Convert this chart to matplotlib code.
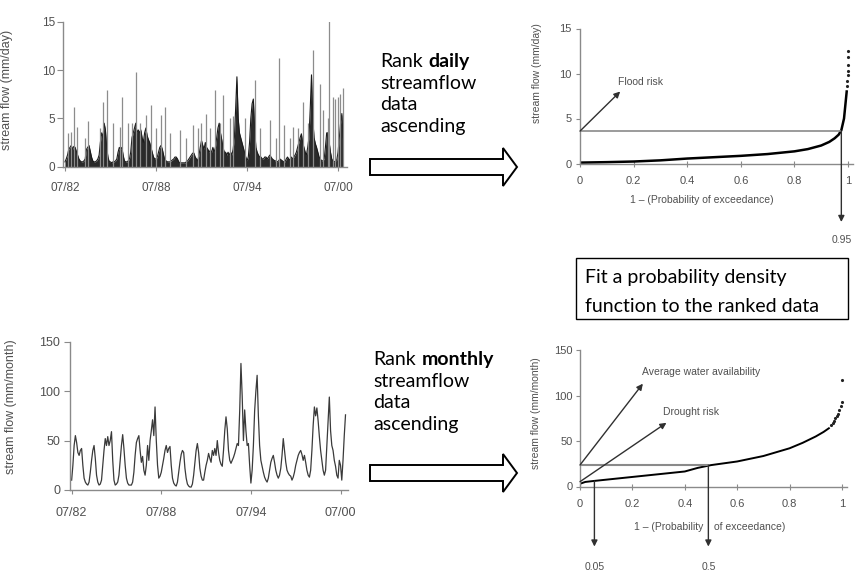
import matplotlib.pyplot as plt
import numpy as np
from matplotlib.patches import FancyArrow, Rectangle

plt.rcParams['font.family'] = ['Liberation Sans', 'DejaVu Sans']

# 时间轴刻度
date_ticks = [1982.5, 1988.5, 1994.5, 2000.5]
date_labels = ['07/82', '07/88', '07/94', '07/00']

# 月径流 (mm/month)，从 1982 年 7 月开始逐月
monthly_flow = [
    10, 25, 45, 55, 48, 38, 35, 40, 42, 25, 12, 8,
    6, 5, 8, 18, 30, 40, 45, 32, 15, 8, 5, 6,
    10, 25, 40, 52, 45, 54, 45, 50, 59, 30, 10, 5,
    6, 8, 15, 30, 45, 56, 42, 25, 12, 7, 5, 5,
    5, 8, 18, 35, 48, 52, 55, 40, 28, 34, 20, 15,
    25, 45, 30, 50, 60, 71, 55, 84, 50, 25, 12, 14,
    18, 25, 32, 40, 45, 38, 42, 44, 25, 12, 7, 5,
    4, 8, 18, 28, 36, 40, 38, 22, 12, 6, 4, 3,
    3, 6, 15, 28, 40, 47, 38, 22, 14, 10, 10, 18,
    25, 30, 37, 32, 28, 40, 35, 42, 35, 50, 38, 30,
    26, 24, 40, 60, 74, 62, 40, 30, 27, 30, 33, 37,
    42, 47, 45, 80, 128, 95, 50, 81, 60, 45, 47, 25,
    7, 20, 45, 80, 100, 116, 75, 45, 30, 24, 18, 13,
    10, 8, 12, 20, 28, 32, 35, 28, 20, 15, 12, 15,
    22, 35, 52, 40, 28, 20, 17, 15, 14, 10, 13, 18,
    25, 30, 35, 38, 40, 36, 30, 35, 28, 20, 15, 13,
    20, 40, 65, 84, 75, 83, 70, 54, 40, 30, 20, 15,
    20, 45, 70, 94, 60, 45, 40, 30, 24, 15, 12, 30,
    25, 10, 30, 55, 76,
]

# 日径流的深色部分上沿 (mm/day)，逐月
daily_dark = [
    0.5, 0.8, 1.2, 1.8, 2.0, 2.2, 1.8, 2.1, 2.0, 1.6, 1.2, 0.8,
    0.6, 0.5, 0.5, 0.6, 0.8, 1.8, 2.0, 2.2, 1.6, 1.0, 0.6, 0.5,
    0.5, 0.6, 0.8, 1.2, 2.5, 3.5, 3.0, 4.5, 3.8, 2.0, 1.0, 0.5,
    0.5, 0.4, 0.5, 0.5, 0.6, 0.8, 1.5, 2.0, 1.8, 2.0, 1.2, 0.6,
    0.5, 0.5, 0.6, 0.8, 1.5, 3.0, 3.5, 4.0, 4.5, 3.5, 3.8, 3.5,
    3.8, 3.0, 2.5, 3.5, 4.0, 3.2, 2.8, 2.5, 2.0, 1.5, 1.0, 0.8,
    0.8, 1.0, 1.5, 2.0, 2.2, 1.8, 1.2, 0.7, 0.6, 0.5, 0.5, 0.5,
    0.6, 0.7, 0.8, 1.0, 1.0, 0.8, 0.5, 0.4, 0.4, 0.4, 0.4, 0.4,
    0.5, 0.6, 0.8, 1.0, 1.2, 1.4, 1.4, 1.0, 0.8, 0.6, 1.2, 2.0,
    2.7, 2.2, 1.8, 2.5, 2.0, 1.8, 1.5, 1.7, 1.5, 2.0, 1.5, 2.0,
    3.0, 4.0, 4.5, 3.5, 2.8, 2.0, 1.5, 1.5, 1.2, 1.5, 1.2, 1.5,
    1.2, 1.8, 3.0, 6.0, 9.3, 5.0, 3.5, 3.0, 2.5, 2.0, 1.5, 1.0,
    0.6, 1.0, 2.5, 5.0, 6.5, 7.0, 4.0, 2.0, 1.5, 1.2, 1.0, 1.0,
    0.8, 0.8, 1.0, 1.0, 0.8, 1.0, 1.2, 1.0, 0.8, 0.7, 0.6, 0.6,
    0.5, 0.6, 0.8, 0.7, 0.6, 0.5, 0.5, 0.8, 1.0, 0.8, 0.7, 1.0,
    0.8, 1.0, 1.2, 1.5, 2.0, 2.5, 3.0, 3.4, 2.5, 2.0, 1.5, 1.2,
    2.0, 3.0, 6.0, 9.5, 5.0, 3.0, 2.4, 2.0, 1.5, 1.0, 0.8, 0.6,
    0.6, 0.8, 2.0, 3.5, 3.5, 2.5, 1.5, 0.8, 0.6, 0.5, 0.6, 0.7,
    1.5, 3.0, 4.5, 5.5, 3.0,
]

# 日径流中的尖峰
spike_years = [1982.72, 1982.87, 1983.09, 1983.27, 1983.82, 1984.04, 1984.80, 1985.02,
               1985.24, 1985.68, 1986.12, 1986.23, 1986.67, 1986.89, 1987.21, 1987.43,
               1987.87, 1988.20, 1988.53, 1988.86, 1989.12, 1989.41, 1990.07, 1990.50,
               1990.94, 1991.27, 1991.49, 1991.82, 1992.04, 1992.37, 1992.70, 1992.92,
               1993.36, 1993.57, 1994.34, 1995.00, 1995.33, 1995.99, 1996.43, 1996.64,
               1996.97, 1997.30, 1997.52, 1997.85, 1998.18, 1998.51, 1998.84, 1999.28,
               1999.50, 1999.82, 1999.93, 2000.15, 2000.33, 2000.48, 2000.64, 2000.81]
spike_flow = [3.5, 3.6, 6.2, 4.1, 3.0, 4.7, 4.0, 6.7,
              7.9, 4.5, 4.1, 7.2, 4.5, 4.5, 9.8, 4.5,
              5.3, 6.4, 4.0, 5.3, 6.2, 3.5, 3.8, 3.0,
              4.3, 4.0, 4.5, 5.5, 4.0, 7.9, 4.5, 7.4,
              5.0, 5.2, 5.0, 9.0, 4.0, 4.8, 3.0, 11.2,
              4.3, 3.0, 4.1, 4.0, 6.7, 4.5, 12.1, 8.6,
              5.9, 5.0, 15.1, 7.2, 7.0, 7.2, 7.5, 8.1]

# 排序后的日径流 (1 - 超越概率, mm/day)
daily_rank_p = [0.0, 0.1, 0.2, 0.3, 0.4, 0.5, 0.6, 0.7, 0.8, 0.85, 0.9, 0.93,
                0.95, 0.965, 0.975, 0.985, 0.99, 0.995]
daily_rank_q = [0.1, 0.15, 0.22, 0.35, 0.55, 0.7, 0.85, 1.05, 1.35, 1.6, 2.0, 2.4,
                2.8, 3.2, 3.7, 5.0, 6.5, 8.0]
daily_tail_p = [0.996, 0.997, 0.998, 0.999, 1.0, 1.0, 1.0]
daily_tail_q = [8.6, 9.2, 9.8, 10.3, 11.0, 11.8, 12.5]

# 排序后的月径流
monthly_rank_p = [0.0, 0.02, 0.05, 0.1, 0.2, 0.3, 0.4, 0.45, 0.5, 0.6, 0.7, 0.8,
                  0.85, 0.9, 0.93, 0.95]
monthly_rank_q = [3.0, 5.0, 6.0, 7.5, 10.5, 13.5, 16.5, 20.5, 23.5, 27.5, 33.5, 42.0,
                  48.0, 55.0, 60.0, 64.0]
monthly_tail_p = [0.96, 0.965, 0.97, 0.975, 0.98, 0.985, 0.99, 0.995, 1.0, 1.0]
monthly_tail_q = [68, 70, 72, 75, 78, 80, 84, 88, 93, 117]

# 标注用的阈值
flood_level, flood_p = 3.6, 0.975
avg_level, avg_p = 23.6, 0.49
drought_level, drought_p = 6.0, 0.055

W, H = 856, 571
fig = plt.figure(figsize=(W / 100, H / 100), dpi=100)


def px_axes(x0, x1, y_bottom, y_top):
    # 用像素位置建坐标轴
    ax = fig.add_axes([x0 / W, 1 - y_bottom / H, (x1 - x0) / W, (y_bottom - y_top) / H])
    ax.patch.set_visible(False)
    for s in ['top', 'right']:
        ax.spines[s].set_visible(False)
    for s in ['left', 'bottom']:
        ax.spines[s].set_color('#8a8a8a')
        ax.spines[s].set_linewidth(1.0)
    return ax


grey_txt = '#505050'
arrow_kw = dict(arrowstyle='-|>', color='#303030', lw=1.0, shrinkA=0, shrinkB=0,
                mutation_scale=9)

months = 1982.5 + np.arange(len(monthly_flow)) / 12

# 左上：日径流
ax1 = px_axes(63.3, 346.7, 166.7, 21.7)
ax1.fill_between(months, 0, daily_dark, color='#2a2a2a', lw=0)
ax1.plot(months, daily_dark, color='#1a1a1a', lw=0.8)
ax1.vlines(spike_years, 0, spike_flow, color='#8c8c8c', lw=0.9)
ax1.set_xlim(1982.39, 2001.07)
ax1.set_ylim(0, 15)
ax1.set_yticks([0, 5, 10, 15])
ax1.set_xticks(date_ticks, date_labels)
ax1.tick_params(axis='both', colors='#8a8a8a', labelcolor=grey_txt, labelsize=8.5)
ax1.tick_params(axis='x', length=3, pad=8)
ax1.tick_params(axis='y', length=4, pad=2)
ax1.set_ylabel('stream flow (mm/day)', fontsize=9, color=grey_txt)
ax1.yaxis.set_label_coords(-0.176, 0.53)

# 左下：月径流
ax3 = px_axes(70, 348, 490, 341.7)
ax3.plot(months, monthly_flow, color='#3a3a3a', lw=0.9)
ax3.set_xlim(1982.39, 2001.0)
ax3.set_ylim(0, 150)
ax3.set_yticks([0, 50, 100, 150])
ax3.set_xticks(date_ticks, date_labels)
ax3.tick_params(axis='both', colors='#8a8a8a', labelcolor=grey_txt, labelsize=9)
ax3.tick_params(axis='x', length=3, pad=9)
ax3.tick_params(axis='y', length=4, pad=3)
ax3.set_ylabel('stream flow (mm/month)', fontsize=9, color=grey_txt)
ax3.yaxis.set_label_coords(-0.19, 0.56)

# 右上：日径流排序
ax2 = px_axes(580, 853.4, 163.5, 28.5)
ax2.plot(daily_rank_p, daily_rank_q, color='black', lw=1.8)
ax2.plot(daily_tail_p, daily_tail_q, ls='none', marker='.', ms=2.5, color='#222222')
ax2.hlines(flood_level, 0, flood_p, color='#8a8a8a', lw=1.2)
ax2.annotate('', xy=(0.15, 8.0), xytext=(0, flood_level), arrowprops=arrow_kw)
ax2.text(0.14, 9.1, 'Flood risk', fontsize=7.5, color=grey_txt, va='center')
ax2.annotate('', xy=(flood_p, -6.5), xytext=(flood_p, flood_level), arrowprops=arrow_kw,
             annotation_clip=False)
ax2.text(flood_p, -8.5, '0.95', fontsize=7.5, color=grey_txt, ha='center', va='center',
         clip_on=False)
ax2.set_xlim(0, 1.02)
ax2.set_ylim(0, 15)
ax2.set_xticks([0, 0.2, 0.4, 0.6, 0.8, 1], ['0', '0.2', '0.4', '0.6', '0.8', '1'])
ax2.set_yticks([0, 5, 10, 15])
ax2.tick_params(axis='both', colors='#8a8a8a', labelcolor=grey_txt, labelsize=8)
ax2.tick_params(axis='x', direction='inout', length=4, pad=7)
ax2.tick_params(axis='y', length=3, pad=3)
ax2.set_xlabel('1 – (Probability of exceedance)', fontsize=7.5, color=grey_txt)
ax2.xaxis.set_label_coords(0.446, -0.233)
ax2.set_ylabel('stream flow (mm/day)', fontsize=7.5, color=grey_txt)
ax2.yaxis.set_label_coords(-0.139, 0.67)

# 右下：月径流排序
ax4 = px_axes(580, 847.2, 486.5, 350)
ax4.plot(monthly_rank_p, monthly_rank_q, color='black', lw=1.4)
ax4.plot(monthly_tail_p, monthly_tail_q, ls='none', marker='.', ms=2.5, color='#222222')
ax4.hlines(avg_level, 0, avg_p, color='#8a8a8a', lw=1.5)
ax4.annotate('', xy=(0.24, 113), xytext=(0, avg_level), arrowprops=arrow_kw)
ax4.annotate('', xy=(0.33, 70), xytext=(0, 5.3), arrowprops=arrow_kw)
ax4.text(0.235, 126, 'Average water availability', fontsize=7.5, color=grey_txt, va='center')
ax4.text(0.315, 82, 'Drought risk', fontsize=7.5, color=grey_txt, va='center')
for p, lvl, lab in [(drought_p, drought_level, '0.05'), (avg_p, avg_level, '0.5')]:
    ax4.annotate('', xy=(p, -66), xytext=(p, lvl), arrowprops=arrow_kw, annotation_clip=False)
    ax4.text(p, -88, lab, fontsize=7.5, color=grey_txt, ha='center', va='center',
             clip_on=False)
ax4.set_xlim(0, 1.02)
ax4.set_ylim(0, 150)
ax4.set_xticks([0, 0.2, 0.4, 0.6, 0.8, 1], ['0', '0.2', '0.4', '0.6', '0.8', '1'])
ax4.set_yticks([0, 50, 100, 150])
ax4.tick_params(axis='both', colors='#8a8a8a', labelcolor=grey_txt, labelsize=8)
ax4.tick_params(axis='x', direction='inout', length=4, pad=7)
ax4.tick_params(axis='y', length=3, pad=2)
xl = ax4.get_xaxis_transform()
ax4.text(avg_p - 0.02, -0.297, '1 – (Probability', transform=xl, fontsize=7.5,
         color=grey_txt, ha='right', va='center')
ax4.text(avg_p + 0.02, -0.297, 'of exceedance)', transform=xl, fontsize=7.5,
         color=grey_txt, ha='left', va='center')
ax4.set_ylabel('stream flow (mm/month)', fontsize=7.5, color=grey_txt)
ax4.yaxis.set_label_coords(-0.146, 0.54)

# 中间的说明文字和空心箭头
ov = fig.add_axes([0, 0, 1, 1])
ov.set_xlim(0, W)
ov.set_ylim(H, 0)
ov.axis('off')
ov.patch.set_visible(False)

tfont = dict(family=['Lato', 'DejaVu Sans'], fontsize=14, color='black', va='baseline')
for x0, y0, word in [(380, 67, 'daily'), (373, 365, 'monthly')]:
    t = ov.text(x0, y0, 'Rank', **tfont)
    ov.annotate(word, xy=(1, 0), xycoords=t, xytext=(4, 0), textcoords='offset points',
                fontweight='bold', family=['Lato', 'DejaVu Sans'], fontsize=14,
                va='bottom')
    for i, line in enumerate(['streamflow', 'data', 'ascending']):
        ov.text(x0, y0 + 21.7 * (i + 1), line, **tfont)

for yc in [167, 473]:
    ov.add_patch(FancyArrow(370, yc, 147, 0, width=16, head_width=38, head_length=14,
                            length_includes_head=True, fc='white', ec='black', lw=1.4))

ov.add_patch(Rectangle((576, 258.3), 272.3, 61, fill=False, ec='black', lw=1.0))
ov.text(585, 283.3, 'Fit a probability density', **tfont)
ov.text(585, 311.7, 'function to the ranked data', **tfont)

fig.savefig('out.png', dpi=100)
